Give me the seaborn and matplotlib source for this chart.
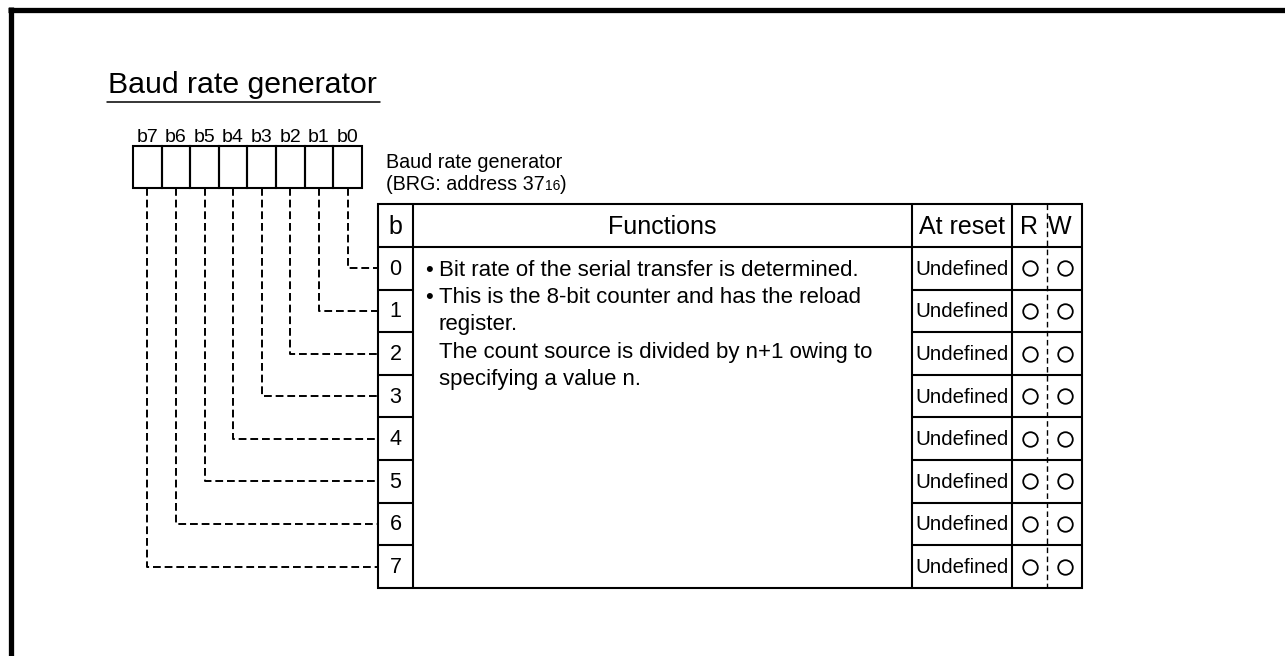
import matplotlib
matplotlib.use("Agg")
import matplotlib.pyplot as plt
import seaborn as sns
import pandas as pd

# ---------------- data ----------------
title = "Baud rate generator"
register_name = "Baud rate generator"
register_addr = "(BRG: address 37"
addr_sub = "16"
bit_labels = ["b7", "b6", "b5", "b4", "b3", "b2", "b1", "b0"]
bit_numbers = [0, 1, 2, 3, 4, 5, 6, 7]
header = ["b", "Functions", "At reset", "R", "W"]
function_bullets = ["•", "•", "", "", ""]
function_lines = [
    "Bit rate of the serial transfer is determined.",
    "This is the 8-bit counter and has the reload",
    "register.",
    "The count source is divided by n+1 owing to",
    "specifying a value n.",
]
at_reset = ["Undefined"] * 8
read_mark = ["O"] * 8
write_mark = ["O"] * 8

# ---------------- layout (pixels) ----------------
W, H = 1285, 656
BOX_X0, BOX_W, BOX_Y0, BOX_Y1 = 133, 28.6, 146, 188
T_X0, T_XB, T_XF, T_XR, T_XW, T_X1 = 378, 413, 912, 1012, 1047, 1082
T_Y0, T_YH, ROW_H = 204, 247, 42.6

sns.set_theme(style="white")
plt.rcParams["font.family"] = ["Liberation Sans", "DejaVu Sans"]

fig = plt.figure(figsize=(W / 100, H / 100), dpi=100)
ax = fig.add_axes([0, 0, 1, 1])
ax.set_facecolor("white")
ax.set_xlim(0, W)
ax.set_ylim(H, 0)
ax.axis("off")

K = "black"
LW = 1.5
DASH = (0, (4, 2))

# outer frame (top + left)
ax.plot([8, W], [9.5, 9.5], color=K, lw=3.8, solid_capstyle="butt")
ax.plot([10.5, 10.5], [7, H], color=K, lw=3.8, solid_capstyle="butt")

# title
ax.text(108, 93, title, fontsize=21.8, va="baseline", ha="left", color=K)
ax.plot([107, 380], [102, 102], color=K, lw=1.1)

# bit boxes
for i, lab in enumerate(bit_labels):
    x0 = BOX_X0 + i * BOX_W
    ax.add_patch(plt.Rectangle((x0, BOX_Y0), BOX_W, BOX_Y1 - BOX_Y0,
                               fill=False, ec=K, lw=LW))
    ax.text(x0 + BOX_W / 2, 141.5, lab, fontsize=14, ha="center",
            va="baseline", color=K)

def row_c(r):
    return T_YH + ROW_H * (r + 0.5)

# dashed connectors
for i, lab in enumerate(bit_labels):
    bit = int(lab[1:])
    xc = BOX_X0 + i * BOX_W + BOX_W / 2
    yc = row_c(bit)
    ax.plot([xc, xc, T_X0], [BOX_Y1, yc, yc], color=K, lw=1.4, ls=DASH)

# register name
ax.text(386, 168, register_name, fontsize=14.2, ha="left", va="baseline", color=K)
t = ax.text(386, 190, register_addr, fontsize=14.2, ha="left", va="baseline", color=K)
fig.canvas.draw()
inv = ax.transData.inverted()
bb = t.get_window_extent()
xe = inv.transform((bb.x1, bb.y0))[0]
t2 = ax.text(xe, 190, addr_sub, fontsize=10, ha="left", va="baseline", color=K)
fig.canvas.draw()
bb2 = t2.get_window_extent()
xe2 = inv.transform((bb2.x1, bb2.y0))[0]
ax.text(xe2, 190, ")", fontsize=14.2, ha="left", va="baseline", color=K)

# table frame
T_Y1 = T_YH + ROW_H * len(bit_numbers)
ax.add_patch(plt.Rectangle((T_X0, T_Y0), T_X1 - T_X0, T_Y1 - T_Y0,
                           fill=False, ec=K, lw=LW))
for xv in [T_XB, T_XF, T_XR]:
    ax.plot([xv, xv], [T_Y0, T_Y1], color=K, lw=LW)
ax.plot([T_XW, T_XW], [T_Y0, T_Y1], color=K, lw=1.0, ls=(0, (4, 2.5)))
ax.plot([T_X0, T_X1], [T_YH, T_YH], color=K, lw=LW)
for r in range(1, len(bit_numbers)):
    y = T_YH + ROW_H * r
    ax.plot([T_X0, T_XB], [y, y], color=K, lw=LW)
    ax.plot([T_XF, T_X1], [y, y], color=K, lw=LW)

# header
hy = (T_Y0 + T_YH) / 2 + 1
FS_H = 18
ax.text((T_X0 + T_XB) / 2, hy, header[0], fontsize=FS_H, ha="center", va="center", color=K)
ax.text((T_XB + T_XF) / 2, hy, header[1], fontsize=FS_H, ha="center", va="center", color=K)
ax.text((T_XF + T_XR) / 2, hy, header[2], fontsize=FS_H, ha="center", va="center", color=K)
ax.text((T_XR + T_XW) / 2, hy, header[3], fontsize=FS_H, ha="center", va="center", color=K)
ax.text(T_XW + 1, hy, header[4], fontsize=FS_H, ha="left", va="center", color=K)

# rows
for r, b in enumerate(bit_numbers):
    yc = row_c(r)
    ax.text((T_X0 + T_XB) / 2, yc + 1, str(b), fontsize=15.5, ha="center", va="center", color=K)
    ax.text(T_XF + 3, yc + 1, at_reset[r], fontsize=14.8, ha="left", va="center", color=K)

# function text
for k, (bul, line) in enumerate(zip(function_bullets, function_lines)):
    yb = 276 + 27.2 * k
    if bul:
        ax.text(425, yb, bul, fontsize=16, ha="left", va="baseline", color=K)
    ax.text(439, yb, line, fontsize=16, ha="left", va="baseline", color=K)

# R / W marks via seaborn
marks = pd.DataFrame({
    "x": [(T_XR + T_XW) / 2] * len(read_mark) + [(T_XW + T_X1) / 2] * len(write_mark),
    "y": [row_c(r) for r in range(len(read_mark))] + [row_c(r) for r in range(len(write_mark))],
    "m": read_mark + write_mark,
})
sns.scatterplot(data=marks, x="x", y="y", ax=ax, marker="o", s=110,
                facecolor="white", edgecolor=K, linewidth=1.3, legend=False, zorder=5)

ax.set_xlim(0, W)
ax.set_ylim(H, 0)
ax.axis("off")
fig.savefig("out.png", dpi=100, facecolor="white")
